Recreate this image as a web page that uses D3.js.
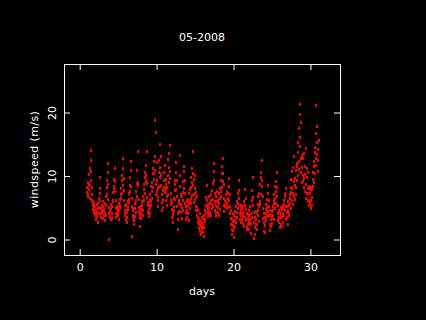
<!DOCTYPE html>
<html><head><meta charset="utf-8">
<script src="https://cdn.jsdelivr.net/npm/d3@7"></script>
<style>
html,body{margin:0;padding:0;background:#000;}
svg{display:block;}
text{font-family:"DejaVu Sans",sans-serif;fill:#fff;}
</style></head>
<body>
<svg id="chart" width="426" height="320"></svg>
<script>
// ---- data (hourly readings, starting at day 0.95) ----
const startDay = 0.95;
const stepDays = 1/24;
const xTicks = [0, 10, 20, 30];
const yTicks = [0, 10, 20];
const titleText = "05-2008";
const xLabel = "days";
const yLabel = "windspeed (m/s)";
const windspeed = [
 7.5,8.2,6.8,9.1,7.2,8.6,10.3,7.9,6.5,8.8,11.2,9.4,12.6,14.1,10.8,8.3,7.1,6.2,5.4,4.8,6.1,5.2,4.3,5.7,
 4.6,3.9,5.3,4.1,3.2,4.8,5.6,4.4,3.7,2.8,4.9,5.9,6.6,5.1,4.2,7.4,9.8,8.1,6.3,5.0,4.1,3.6,4.7,5.5,
 4.3,3.4,5.2,6.1,4.8,3.9,4.6,5.8,4.2,3.1,3.8,5.4,6.9,8.2,7.1,9.3,10.6,12.1,8.7,6.4,0.1,4.2,5.1,3.7,
 3.6,4.5,3.2,4.9,5.6,4.1,3.4,5.2,6.3,7.5,6.1,8.4,9.6,8.1,11.2,9.2,7.6,6.3,5.1,4.2,3.5,4.8,3.9,5.3,
 4.4,3.8,5.1,4.6,3.3,5.7,6.4,4.9,5.5,7.2,6.6,8.1,7.3,9.4,10.2,8.6,11.3,12.8,9.7,7.8,6.2,5.4,4.7,3.9,
 4.1,3.2,5.6,4.7,3.5,2.7,4.3,5.2,6.1,4.8,5.9,7.3,6.4,8.6,9.8,7.7,10.9,12.3,8.4,6.6,5.3,0.6,3.6,4.9,
 3.8,4.6,3.1,2.4,3.5,3.7,4.9,5.8,4.3,6.2,7.6,8.9,6.8,10.9,9.1,13.9,8.6,6.4,4.5,5.1,4.0,2.2,3.6,4.8,
 4.2,5.3,3.4,4.8,6.1,5.4,3.9,4.6,6.8,7.9,6.3,8.7,9.8,7.4,10.6,9.2,11.8,10.1,14.0,8.9,6.7,5.5,4.3,5.9,
 4.8,3.7,5.6,4.2,6.3,5.1,7.2,6.0,8.4,5.4,7.7,9.1,6.6,10.4,8.2,11.3,9.6,12.4,10.5,18.8,13.1,11.0,8.8,7.1,
 16.9,12.2,9.4,7.6,6.3,5.2,8.1,6.9,10.7,8.5,12.6,9.8,15.1,11.4,13.2,10.3,8.6,7.2,5.9,4.7,6.4,5.1,7.8,9.3,
 8.2,10.6,7.5,9.4,11.8,8.7,6.3,7.9,9.6,6.8,5.4,8.3,7.1,10.2,12.7,9.1,11.4,13.6,10.8,14.9,9.7,7.4,6.2,5.6,
 4.8,3.6,5.9,4.3,2.7,3.9,5.2,6.6,4.7,7.8,9.3,6.4,8.8,10.6,7.9,12.2,9.4,6.9,5.3,4.1,3.2,1.6,4.5,5.7,
 6.2,13.3,10.1,8.4,7.2,5.6,4.3,6.8,5.1,3.4,4.6,7.5,9.2,6.3,10.8,8.1,11.6,9.3,7.4,5.8,4.4,3.2,5.3,6.1,
 4.7,3.6,5.5,6.4,4.2,3.1,5.8,7.3,6.1,4.9,7.9,6.6,9.8,8.2,5.7,7.0,9.1,11.2,8.6,10.4,14.0,9.5,7.2,5.9,
 8.1,6.4,10.2,7.5,5.3,4.6,6.8,3.9,5.1,2.8,3.6,4.7,2.4,1.8,3.3,4.2,2.6,1.4,3.1,2.2,0.9,2.7,1.6,3.5,
 2.1,3.4,1.2,2.6,0.6,1.9,3.8,2.9,4.6,3.2,5.4,4.1,6.7,5.3,8.6,6.2,4.8,3.7,5.6,4.3,6.9,5.1,4.0,5.8,
 4.4,5.9,7.1,3.8,6.3,4.9,5.6,7.8,6.4,8.9,5.2,10.8,12.0,9.3,7.4,6.1,4.6,3.7,5.5,4.2,6.8,5.3,7.6,6.0,
 5.1,4.3,6.2,3.9,5.7,7.3,6.5,4.8,8.1,6.9,9.4,7.6,10.5,8.3,11.6,9.2,12.9,10.4,8.7,6.6,5.4,4.5,6.1,5.2,
 6.3,5.4,7.2,6.1,4.9,7.7,5.8,6.6,5.1,7.4,6.2,8.4,9.7,7.1,5.3,4.2,3.4,2.5,4.7,1.6,3.2,0.8,2.3,4.1,
 2.9,1.5,3.8,0.4,2.2,4.5,3.1,1.9,3.6,5.2,2.7,4.4,6.1,3.5,5.7,7.3,4.9,6.6,9.3,7.8,5.5,4.2,3.3,5.0,
 3.9,4.7,2.8,5.4,3.3,4.1,2.6,3.7,5.0,2.2,4.4,6.1,3.6,5.5,7.9,4.8,6.6,3.1,2.0,4.2,1.6,3.4,2.5,4.0,
 2.9,3.8,1.7,4.6,2.4,3.3,5.2,1.1,2.6,4.1,6.3,3.5,7.8,5.4,9.8,6.7,4.3,2.8,0.3,1.9,3.6,0.9,2.4,4.5,
 3.2,1.6,4.4,2.5,5.6,3.8,6.9,4.7,2.9,5.3,7.4,6.1,8.8,5.6,9.9,7.2,10.7,8.4,12.6,9.3,6.8,4.9,3.4,1.4,
 2.7,4.1,1.2,3.5,2.3,4.8,3.1,5.6,4.2,6.4,3.7,5.1,7.3,4.5,8.6,6.2,3.9,5.3,2.4,4.6,1.5,3.2,2.1,3.9,
 3.4,4.5,2.6,5.2,3.8,4.6,6.3,3.3,5.7,7.1,4.9,6.5,8.4,5.8,7.6,9.2,6.9,10.6,8.3,5.4,4.1,3.0,4.7,3.6,
 2.8,4.3,1.9,3.5,5.1,2.4,3.9,4.8,2.2,3.6,5.4,4.1,2.7,4.9,6.2,3.8,5.6,7.4,4.6,6.8,3.3,5.2,8.1,4.4,
 3.6,5.3,2.5,4.7,6.1,3.9,5.5,4.2,7.2,5.8,6.6,8.3,4.9,7.5,9.6,6.2,10.8,8.1,5.6,11.4,7.4,9.2,13.2,6.8,
 8.6,6.4,9.7,7.2,10.9,8.3,12.1,9.4,11.6,13.8,10.2,15.4,12.3,17.6,11.1,19.8,21.4,14.7,16.2,12.8,10.6,18.5,13.3,9.1,
 11.4,9.2,12.8,10.1,8.3,13.6,9.7,11.5,7.6,10.3,14.4,8.8,6.5,9.9,7.4,11.2,8.1,6.2,10.6,7.3,5.4,8.5,6.1,7.9,
 5.8,7.4,6.3,4.9,8.2,6.7,5.5,7.9,9.6,8.4,10.7,12.3,9.1,11.5,13.8,10.4,14.6,12.9,16.7,11.8,21.2,15.3,13.4,17.8,
 12.6,14.2,10.8,15.7
];

// ---- layout ----
const svg = d3.select("#chart");
const L = 64, R = 340, T = 64, B = 255;
const x = d3.scaleLinear().domain([-2.04, 33.84]).range([L, R]);
const y = d3.scaleLinear().domain([-2.44, 27.64]).range([B, T]);

svg.append("rect").attr("width", 426).attr("height", 320).attr("fill", "#000");

// points
svg.append("g").selectAll("rect").data(windspeed).join("rect")
  .attr("x", (d, i) => Math.round(x(startDay + i * stepDays)) - 1)
  .attr("y", d => Math.round(y(d)) - 1)
  .attr("width", 2).attr("height", 3)
  .attr("fill", "#ff0000");

// axes
const tl = 6;
const gB = svg.append("g").attr("transform", `translate(0,${B})`)
  .call(d3.axisBottom(x).tickValues(xTicks).tickSizeInner(-tl).tickSizeOuter(0).tickPadding(8));
const gT = svg.append("g").attr("transform", `translate(0,${T})`)
  .call(d3.axisTop(x).tickValues(xTicks).tickSizeInner(-tl).tickSizeOuter(0).tickFormat(""));
const gL = svg.append("g").attr("transform", `translate(${L},0)`)
  .call(d3.axisLeft(y).tickValues(yTicks).tickSizeInner(-tl).tickSizeOuter(0));
const gR = svg.append("g").attr("transform", `translate(${R},0)`)
  .call(d3.axisRight(y).tickValues(yTicks).tickSizeInner(-tl).tickSizeOuter(0).tickFormat(""));

[gB, gT, gL, gR].forEach(g => {
  g.select(".domain").remove();
  g.selectAll("line").attr("stroke", "#fff");
  g.selectAll("text").attr("fill", "#fff").attr("font-size", 11).attr("font-family", "DejaVu Sans");
});
gL.selectAll("text")
  .attr("x", null).attr("dy", null)
  .attr("text-anchor", "middle")
  .attr("transform", "translate(-8,0) rotate(-90)");

// box
svg.append("rect").attr("x", L + 0.5).attr("y", T + 0.5)
  .attr("width", R - L).attr("height", B - T)
  .attr("fill", "none").attr("stroke", "#fff").attr("stroke-width", 1);

// labels
svg.append("text").attr("x", (L + R) / 2).attr("y", 40.5)
  .attr("text-anchor", "middle").attr("font-size", 11).text(titleText);
svg.append("text").attr("x", (L + R) / 2).attr("y", 294.5)
  .attr("text-anchor", "middle").attr("font-size", 11).text(xLabel);
svg.append("text")
  .attr("transform", `translate(37.5,${(T + B) / 2}) rotate(-90)`)
  .attr("text-anchor", "middle").attr("font-size", 11)
  .attr("letter-spacing", 0.4).text(yLabel);
</script>
</body></html>
